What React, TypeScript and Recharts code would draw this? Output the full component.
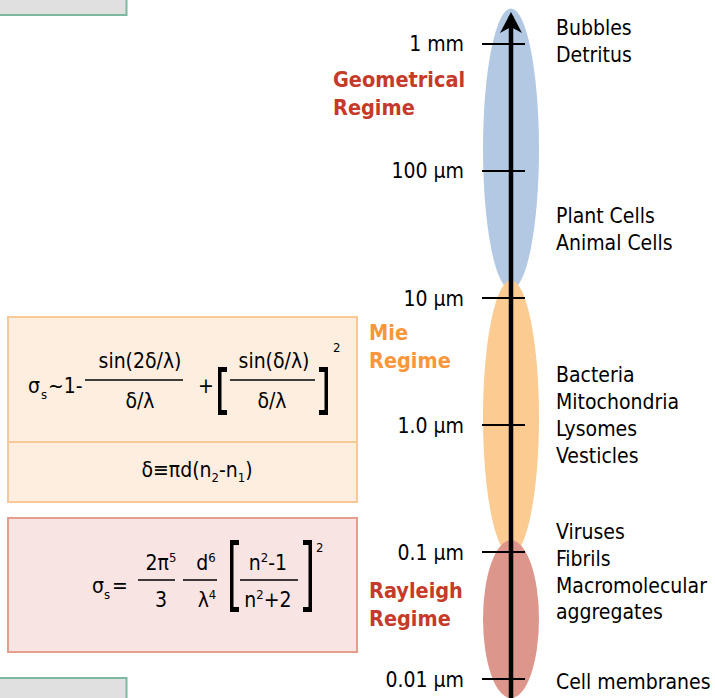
import React from "react";
import { ComposedChart, ReferenceArea, Scatter, XAxis, YAxis } from "recharts";

const FONT = "'DejaVu Sans Condensed', 'DejaVu Sans', sans-serif";

// particle size axis (µm, log scale)
const sizeTicks = [1000, 100, 10, 1, 0.1, 0.01];
const sizeTickLabels = ["1 mm", "100 µm", "10 µm", "1.0 µm", "0.1 µm", "0.01 µm"];

// scattering regimes: size range covered by each ellipse
const regimeNames = ["Geometrical", "Mie", "Rayleigh"];
const regimeUpper = [1900, 13.8, 0.124];
const regimeLower = [11.6, 0.095, 0.0071];
const regimeLabelSize = [407, 4.15, 0.0385];

// objects listed on the right, at their typical size
const objectGroups = [
  ["Bubbles", "Detritus"],
  ["Plant Cells", "Animal Cells"],
  ["Bacteria", "Mitochondria", "Lysomes", "Vesticles"],
  ["Viruses", "Fibrils", "Macromolecular", "aggregates"],
  ["Cell membranes"],
];
const objectSizes = [1050, 35, 1.2, 0.07, 0.0096];

const regimeStyle: Record<string, { fill: string; text: string; dx: number }> = {
  Geometrical: { fill: "#b3c9e3", text: "#c53a28", dx: -178 },
  Mie: { fill: "#fbcb92", text: "#f7963a", dx: -142 },
  Rayleigh: { fill: "#dd968b", text: "#c53a28", dx: -142 },
};

const objectData = objectGroups.map((lines, i) => ({ x: 0, size: objectSizes[i], lines }));
const regimeLabelData = regimeNames.map((name, i) => ({
  x: 0,
  size: regimeLabelSize[i],
  name,
  lines: [name, "Regime"],
}));

function SizeTick(props: any) {
  const { x, y, payload } = props;
  const label = sizeTickLabels[sizeTicks.indexOf(payload.value)];
  return (
    <g>
      <line x1={x - 29} x2={x + 14} y1={y} y2={y} stroke="#000" strokeWidth={2} />
      <text x={x - 47} y={y + 7.5} textAnchor="end" fontSize={21} fill="#000" fontFamily={FONT}>
        {label}
      </text>
    </g>
  );
}

const ellipseShape = (fill: string) => (p: any) =>
  <ellipse cx={p.x} cy={p.y + p.height / 2} rx={28} ry={p.height / 2} fill={fill} />;

function ObjectLabel(props: any) {
  const { cx, cy, payload } = props;
  const lines: string[] = payload.lines;
  const top = cy - ((lines.length - 1) / 2) * 26.7 + 7.5;
  return (
    <text fontFamily={FONT} fontSize={21} fill="#000">
      {lines.map((l, i) => (
        <tspan key={i} x={cx + 45} y={top + i * 26.7}>
          {l}
        </tspan>
      ))}
    </text>
  );
}

function RegimeLabel(props: any) {
  const { cx, cy, payload } = props;
  const st = regimeStyle[payload.name];
  const lines: string[] = payload.lines;
  const top = cy - ((lines.length - 1) / 2) * 28 + 7.5;
  return (
    <text fontFamily={FONT} fontSize={21.5} fontWeight="bold" fill={st.text}>
      {lines.map((l, i) => (
        <tspan key={i} x={cx + st.dx} y={top + i * 28}>
          {l}
        </tspan>
      ))}
    </text>
  );
}

function Bracket({ x, y1, y2, right }: { x: number; y1: number; y2: number; right?: boolean }) {
  const vx = right ? x + 5.5 : x;
  return (
    <g fill="#000">
      <rect x={vx} y={y1} width={3.5} height={y2 - y1} />
      <rect x={x} y={y1} width={9} height={5} />
      <rect x={x} y={y2 - 5} width={9} height={5} />
    </g>
  );
}

function FormulaPanels() {
  const sub = { fontSize: 13 };
  return (
    <svg
      width={715}
      height={698}
      style={{ position: "absolute", left: 0, top: 0, pointerEvents: "none" }}
      fontFamily={FONT}
      fontSize={21}
      fill="#000"
    >
      <rect x={-2} y={-2} width={128.5} height={17} fill="#e0e0e0" stroke="#7db9a1" strokeWidth={2} />
      <rect x={-2} y={678} width={128.5} height={30} fill="#e0e0e0" stroke="#7db9a1" strokeWidth={2} />

      {/* Mie */}
      <rect x={8} y={317} width={349} height={185} fill="#fdeedf" stroke="#f9c897" strokeWidth={2} />
      <line x1={8} x2={357} y1={442} y2={442} stroke="#f9c897" strokeWidth={2} />
      <text x={28} y={393}>σ</text>
      <text x={41} y={399} {...sub}>s</text>
      <text x={48} y={393}>~1-</text>
      <text x={140} y={368} textAnchor="middle">sin(2δ/λ)</text>
      <line x1={85} x2={183} y1={380} y2={380} stroke="#000" strokeWidth={1.3} />
      <text x={140} y={408} textAnchor="middle">δ/λ</text>
      <text x={206} y={393} textAnchor="middle">+</text>
      <Bracket x={218} y1={367} y2={415} />
      <text x={274} y={368} textAnchor="middle">sin(δ/λ)</text>
      <line x1={230} x2={315} y1={380} y2={380} stroke="#000" strokeWidth={1.3} />
      <text x={272} y={408} textAnchor="middle">δ/λ</text>
      <Bracket x={319} y1={367} y2={415} right />
      <text x={333} y={352} {...sub}>2</text>
      <text x={197} y={477} textAnchor="middle">
        δ≡πd(n<tspan dy={5} {...sub}>2</tspan>
        <tspan dy={-5}>-n</tspan>
        <tspan dy={5} {...sub}>1</tspan>
        <tspan dy={-5}>)</tspan>
      </text>

      {/* Rayleigh */}
      <rect x={8} y={518} width={349} height={134} fill="#f8e4e2" stroke="#e59e8c" strokeWidth={2} />
      <text x={92} y={593}>σ</text>
      <text x={104} y={599} {...sub}>s</text>
      <text x={112} y={593}>=</text>
      <text x={161} y={570} textAnchor="middle">
        2π<tspan dy={-8} {...sub}>5</tspan>
      </text>
      <line x1={138} x2={175} y1={580} y2={580} stroke="#000" strokeWidth={1.3} />
      <text x={161} y={607} textAnchor="middle">3</text>
      <text x={206} y={570} textAnchor="middle">
        d<tspan dy={-8} {...sub}>6</tspan>
      </text>
      <line x1={183} x2={217} y1={580} y2={580} stroke="#000" strokeWidth={1.3} />
      <text x={207} y={607} textAnchor="middle">
        λ<tspan dy={-8} {...sub}>4</tspan>
      </text>
      <Bracket x={230} y1={540} y2={612} />
      <text x={268} y={570} textAnchor="middle">
        n<tspan dy={-8} {...sub}>2</tspan>
        <tspan dy={8}>-1</tspan>
      </text>
      <line x1={240} x2={298} y1={580} y2={580} stroke="#000" strokeWidth={1.3} />
      <text x={268} y={607} textAnchor="middle">
        n<tspan dy={-8} {...sub}>2</tspan>
        <tspan dy={8}>+2</tspan>
      </text>
      <Bracket x={303} y1={540} y2={612} right />
      <text x={316} y={552} {...sub}>2</text>
    </svg>
  );
}

export default function App() {
  return (
    <div style={{ position: "absolute", left: 0, top: 0, width: 715, height: 698, background: "#fff" }}>
      <ComposedChart width={715} height={698} margin={{ top: 16, right: 0, bottom: 0, left: 0 }}>
        <defs>
          <marker
            id="axisArrow"
            markerUnits="userSpaceOnUse"
            markerWidth={22}
            markerHeight={22}
            refX={17}
            refY={11}
            orient="auto-start-reverse"
          >
            <path d="M0,0 L21,11 L0,22 L6,11 Z" fill="#000" />
          </marker>
        </defs>
        <XAxis type="number" dataKey="x" domain={[0, 1]} hide />
        {regimeNames.map((name, i) => (
          <ReferenceArea
            key={name}
            y1={regimeUpper[i]}
            y2={regimeLower[i]}
            ifOverflow="visible"
            shape={ellipseShape(regimeStyle[name].fill)}
          />
        ))}
        <YAxis
          type="number"
          dataKey="size"
          scale="log"
          domain={[0.0071, 1660]}
          ticks={sizeTicks}
          interval={0}
          width={511}
          axisLine={{ stroke: "#000", strokeWidth: 4.5, markerStart: "url(#axisArrow)" }}
          tickLine={false}
          tickSize={0}
          tickMargin={0}
          tick={<SizeTick />}
        />
        <Scatter data={objectData} dataKey="size" shape={<ObjectLabel />} isAnimationActive={false} />
        <Scatter data={regimeLabelData} dataKey="size" shape={<RegimeLabel />} isAnimationActive={false} />
      </ComposedChart>
      <FormulaPanels />
    </div>
  );
}
